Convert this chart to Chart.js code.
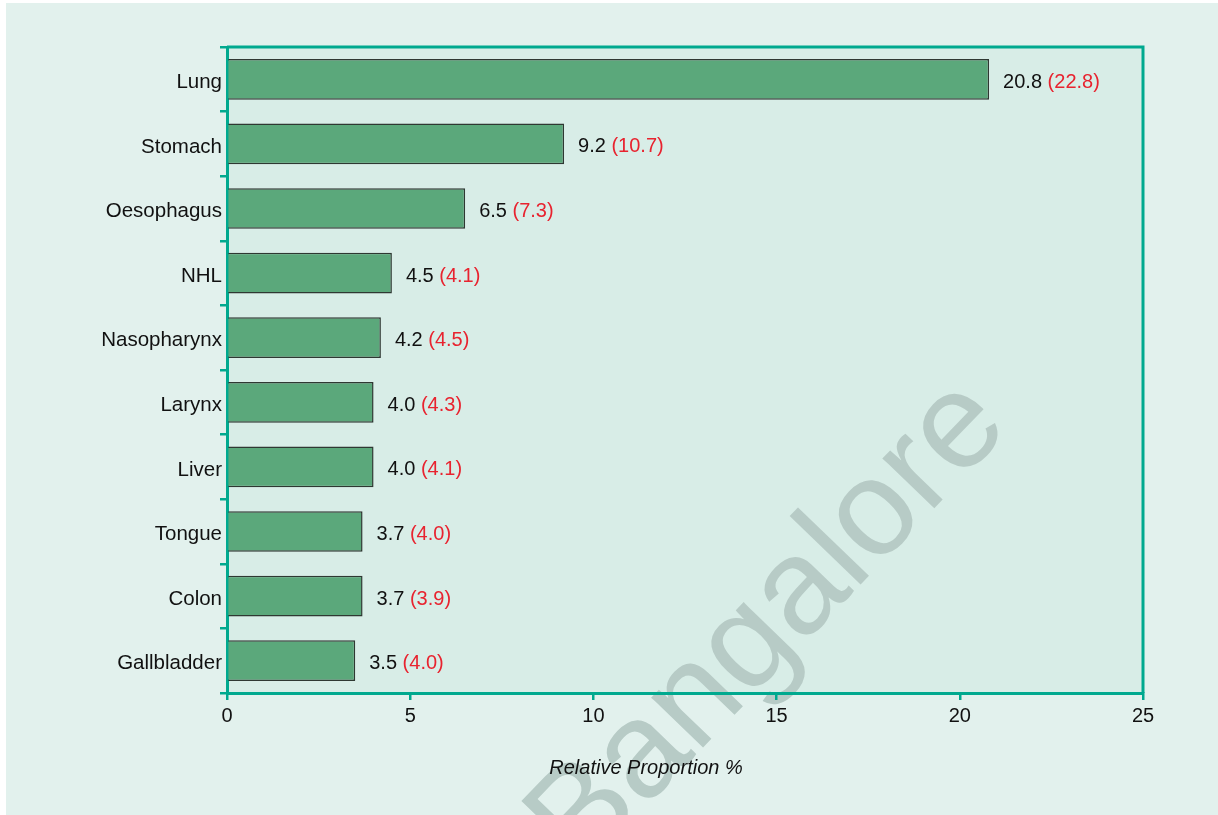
<!DOCTYPE html>
<html>
<head>
<meta charset="utf-8">
<script src="https://cdn.jsdelivr.net/npm/chart.js@4.4.0/dist/chart.umd.min.js"></script>
<style>
  html, body { margin: 0; padding: 0; background: #ffffff; }
  #wrap { position: absolute; left: 6px; top: 3px; width: 1212px; height: 812px; }
  canvas { display: block; background: #e2f1ed; }
</style>
</head>
<body>
<div id="wrap"><canvas id="chart" width="1212" height="812"></canvas></div>
<script>
// sites, relative proportion (%), bracketed comparison value
const sites = ['Lung', 'Stomach', 'Oesophagus', 'NHL', 'Nasopharynx', 'Larynx', 'Liver', 'Tongue', 'Colon', 'Gallbladder'];
const proportion = [20.8, 9.2, 6.5, 4.5, 4.2, 4.0, 4.0, 3.7, 3.7, 3.5];
const bracketed = [22.8, 10.7, 7.3, 4.1, 4.5, 4.3, 4.1, 4.0, 3.9, 4.0];
const xTicks = [0, 5, 10, 15, 20, 25];

const FONT = '"Liberation Sans", Arial, Helvetica, sans-serif';
const TEAL = '#00a98f';

const decor = {
  id: 'decor',
  beforeDraw(chart) {
    const { ctx, chartArea: a } = chart;
    ctx.save();
    ctx.fillStyle = '#d8ede7';
    ctx.fillRect(a.left, a.top, a.right - a.left, a.bottom - a.top);
    // watermark
    ctx.translate(575, 871);
    ctx.rotate(-46 * Math.PI / 180);
    ctx.fillStyle = '#b7cbc6';
    ctx.font = '136px ' + FONT;
    ctx.textAlign = 'left';
    ctx.textBaseline = 'alphabetic';
    ctx.fillText('Bangalore', 0, 0);
    ctx.restore();
  },
  afterDatasetsDraw(chart) {
    const { ctx, chartArea: a } = chart;
    ctx.save();
    ctx.strokeStyle = TEAL;
    ctx.lineWidth = 3;
    ctx.beginPath();
    ctx.moveTo(a.left, a.top);
    ctx.lineTo(a.right, a.top);
    ctx.lineTo(a.right, a.bottom);
    ctx.stroke();

    // value labels
    ctx.font = '20px ' + FONT;
    ctx.textBaseline = 'middle';
    ctx.textAlign = 'left';
    chart.getDatasetMeta(0).data.forEach((bar, i) => {
      const first = proportion[i].toFixed(1) + ' ';
      const x = bar.x + 14;
      const y = bar.y + 3;
      ctx.fillStyle = '#111111';
      ctx.fillText(first, x, y);
      ctx.fillStyle = '#e8232f';
      ctx.fillText('(' + bracketed[i].toFixed(1) + ')', x + ctx.measureText(first).width, y);
    });

    // axis title
    ctx.font = 'italic 20px ' + FONT;
    ctx.fillStyle = '#111111';
    ctx.textAlign = 'center';
    ctx.fillText('Relative Proportion %', 640, 765);
    ctx.restore();
  }
};

new Chart(document.getElementById('chart'), {
  type: 'bar',
  data: {
    labels: sites,
    datasets: [{
      data: proportion,
      backgroundColor: '#5ba87b',
      borderColor: '#2e3832',
      borderWidth: 1.5,
      barPercentage: 0.63,
      categoryPercentage: 1
    }]
  },
  options: {
    indexAxis: 'y',
    responsive: false,
    animation: false,
    layout: { padding: { top: 44, right: 75, left: 0, bottom: 0 } },
    plugins: { legend: { display: false }, tooltip: { enabled: false } },
    scales: {
      x: {
        min: 0,
        max: 25,
        afterFit(s) { s.height = 122; },
        afterBuildTicks(s) { s.ticks = xTicks.map(v => ({ value: v })); },
        grid: { drawOnChartArea: false, drawTicks: true, tickLength: 7, color: TEAL, lineWidth: 2.5 },
        border: { color: TEAL, width: 3 },
        ticks: { color: '#111111', font: { family: FONT, size: 20 }, padding: 4 }
      },
      y: {
        afterFit(s) { s.width = 221; },
        grid: { drawOnChartArea: false, drawTicks: true, tickLength: 7, color: TEAL, lineWidth: 2.5 },
        border: { color: TEAL, width: 3 },
        ticks: { color: '#111111', font: { family: FONT, size: 20.5 }, padding: -2, labelOffset: 3 }
      }
    }
  },
  plugins: [decor]
});
</script>
</body>
</html>
